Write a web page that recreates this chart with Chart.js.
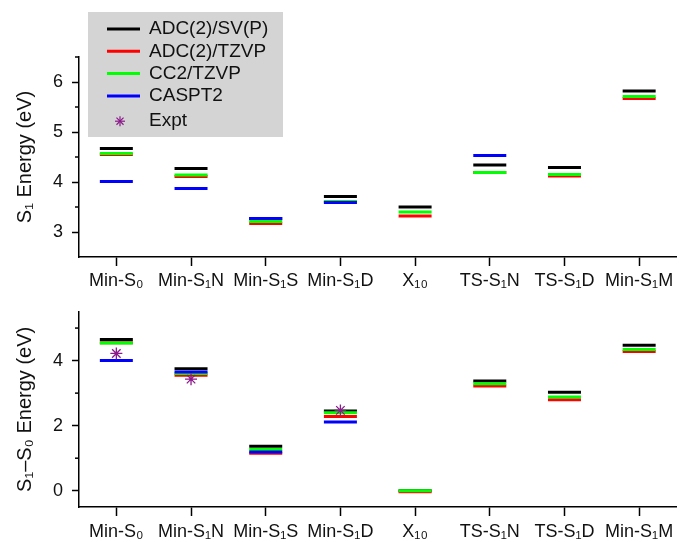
<!DOCTYPE html>
<html>
<head>
<meta charset="utf-8">
<script src="https://cdn.jsdelivr.net/npm/chart.js@4.4.1/dist/chart.umd.min.js"></script>
<style>
  body { margin: 0; background: #fff; }
  canvas { display: block; }
</style>
</head>
<body>
<canvas id="s1-energy" width="696" height="292"></canvas>
<canvas id="gap-energy" width="696" height="250"></canvas>
<script>
const categories = ['Min-S₀', 'Min-S₁N', 'Min-S₁S', 'Min-S₁D', 'X₁₀', 'TS-S₁N', 'TS-S₁D', 'Min-S₁M'];
const methods = ['ADC(2)/SV(P)', 'ADC(2)/TZVP', 'CC2/TZVP', 'CASPT2'];
const methodColors = ['#000000', '#ff0000', '#00ff00', '#0000ff'];
const exptColor = '#8b1a8b';

// top panel: S1 energy (eV)
const s1SVP    = [4.67, 4.27, 3.27, 3.71, 3.50, 4.34, 4.29, 5.82];
const s1TZVP   = [4.55, 4.11, 3.17, 3.60, 3.32, 4.19, 4.12, 5.67];
const s1CC2    = [4.57, 4.14, 3.21, 3.61, 3.40, 4.19, 4.15, 5.71];
const s1CASPT2 = [4.01, 3.87, 3.27, 3.59, null, 4.53, null, null];
const s1Expt   = [null, null, null, null, null, null, null, null];
const s1Ticks  = [3, 4, 5, 6];
const s1Minor  = [3.5, 4.5, 5.5, 6.5];

// bottom panel: S1-S0 gap (eV)
const gapSVP    = [4.65, 3.75, 1.37, 2.45, 0.00, 3.37, 3.03, 4.47];
const gapTZVP   = [4.55, 3.55, 1.15, 2.28, -0.03, 3.22, 2.80, 4.28];
const gapCC2    = [4.54, 3.60, 1.27, 2.40, 0.00, 3.29, 2.88, 4.34];
const gapCASPT2 = [4.00, 3.65, 1.19, 2.11, null, null, null, null];
const gapExpt   = [4.22, 3.43, null, 2.47, null, null, null, null];
const gapTicks  = [0, 2, 4];
const gapMinor  = [1, 3, 5];

const FONT = '"Liberation Sans", Arial, sans-serif';

function makeDatasets(series, expt) {
  const sets = series.map((values, i) => ({
    label: methods[i],
    data: values,
    borderColor: methodColors[i],
    backgroundColor: methodColors[i],
    showLine: false,
    pointStyle: 'line',
    pointRadius: 16.5,
    pointHoverRadius: 16.5,
    pointBorderWidth: 3,
    order: 10 - i
  }));
  sets.push({
    label: 'Expt',
    data: expt,
    borderColor: exptColor,
    backgroundColor: exptColor,
    showLine: false,
    pointStyle: 'star',
    pointRadius: 6,
    pointHoverRadius: 6,
    pointBorderWidth: 1.3,
    order: 0
  });
  return sets;
}

function drawStar(ctx, x, y, r) {
  for (let k = 0; k < 4; k++) {
    const a = k * Math.PI / 4;
    ctx.beginPath();
    ctx.moveTo(x - Math.cos(a) * r, y - Math.sin(a) * r);
    ctx.lineTo(x + Math.cos(a) * r, y + Math.sin(a) * r);
    ctx.stroke();
  }
}

const minorTicks = {
  id: 'minorTicks',
  afterDraw(chart, args, opts) {
    const y = chart.scales.y, ctx = chart.ctx;
    ctx.save();
    ctx.strokeStyle = '#000';
    ctx.lineWidth = 1.5;
    opts.values.forEach(v => {
      const py = y.getPixelForValue(v);
      ctx.beginPath();
      ctx.moveTo(y.right, py);
      ctx.lineTo(y.right - 4, py);
      ctx.stroke();
    });
    ctx.restore();
  }
};

const boxLegend = {
  id: 'boxLegend',
  afterDraw(chart) {
    const ctx = chart.ctx;
    ctx.save();
    ctx.fillStyle = '#d4d4d4';
    ctx.fillRect(88, 12, 195, 125);
    ctx.font = '19px ' + FONT;
    ctx.textBaseline = 'middle';
    chart.data.datasets.forEach((ds, i) => {
      const star = ds.pointStyle === 'star';
      const y = 29 + i * 22.3 + (star ? 3 : 0);
      ctx.strokeStyle = ds.borderColor;
      if (star) {
        ctx.lineWidth = 1.2;
        drawStar(ctx, 120, y, 5);
      } else {
        ctx.lineWidth = 3;
        ctx.beginPath();
        ctx.moveTo(107, y);
        ctx.lineTo(140, y);
        ctx.stroke();
      }
      ctx.fillStyle = '#111';
      ctx.fillText(ds.label, 149, y);
    });
    ctx.restore();
  }
};

function makeOptions(yMin, yMax, majors, minors, title, labelPad, topPad) {
  return {
    responsive: false,
    animation: false,
    layout: { padding: { top: topPad, left: 0, right: 0, bottom: 0 } },
    plugins: {
      legend: { display: false },
      tooltip: { enabled: false },
      minorTicks: { values: minors }
    },
    scales: {
      x: {
        type: 'category',
        offset: true,
        grid: { drawOnChartArea: false, tickLength: 9, tickColor: '#000', tickWidth: 1.5 },
        border: { color: '#000', width: 1.5 },
        ticks: { color: '#111', font: { family: FONT, size: 18 }, padding: labelPad, maxRotation: 0, autoSkip: false },
        afterFit: s => { s.height = 35; }
      },
      y: {
        min: yMin,
        max: yMax,
        afterBuildTicks: s => { s.ticks = majors.map(v => ({ value: v })); },
        grid: { drawOnChartArea: false, tickLength: 7, tickColor: '#000', tickWidth: 1.5 },
        border: { color: '#000', width: 1.5 },
        ticks: { color: '#111', font: { family: FONT, size: 18 }, padding: 9 },
        title: { display: true, text: title, color: '#111', font: { family: FONT, size: 20 }, padding: { top: 13, bottom: 0 } },
        afterFit: s => { s.width = 79; }
      }
    }
  };
}

new Chart(document.getElementById('s1-energy').getContext('2d'), {
  type: 'line',
  data: { labels: categories, datasets: makeDatasets([s1SVP, s1TZVP, s1CC2, s1CASPT2], s1Expt) },
  options: makeOptions(2.5, 6.5, s1Ticks, s1Minor, 'S₁ Energy (eV)', 4, 57),
  plugins: [minorTicks, boxLegend]
});

new Chart(document.getElementById('gap-energy').getContext('2d'), {
  type: 'line',
  data: { labels: categories, datasets: makeDatasets([gapSVP, gapTZVP, gapCC2, gapCASPT2], gapExpt) },
  options: makeOptions(-0.5, 5.5, gapTicks, gapMinor, 'S₁–S₀ Energy (eV)', 5, 16),
  plugins: [minorTicks]
});
</script>
</body>
</html>
